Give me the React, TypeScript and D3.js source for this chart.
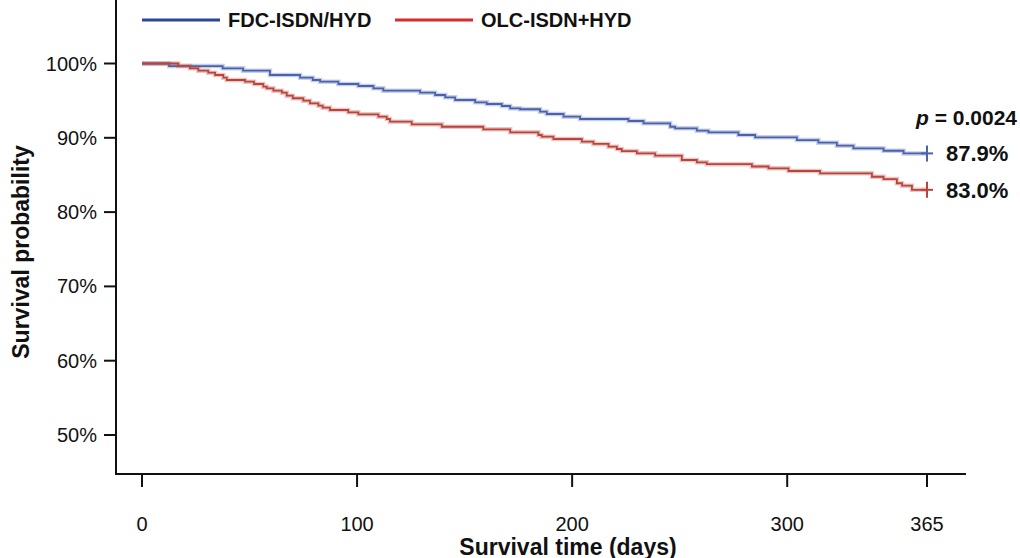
import React from 'react';
import * as d3 from 'd3';

// Kaplan-Meier steps: day of each drop and survival (%) after it
const fdcDays = [0, 12.6, 37.5, 47.0, 59.5, 73.5, 79.4, 82.8, 91.3, 100.6, 107.6, 112.2, 129.3, 136.3, 141.0, 145.6, 154.9, 160.3, 167.3, 171.2, 175.8, 185.1, 188.2, 196.0, 203.7, 226.2, 233.2, 245.6, 247.9, 258.0, 263.4, 277.3, 285.1, 304.5, 314.5, 323.1, 330.8, 344.8, 354.1];
const fdcSurv = [100, 99.66, 99.35, 99.03, 98.45, 98.09, 97.78, 97.55, 97.24, 96.97, 96.66, 96.34, 96.07, 95.76, 95.45, 95.09, 94.78, 94.55, 94.28, 93.97, 93.84, 93.51, 93.2, 92.84, 92.53, 92.26, 91.95, 91.49, 91.28, 90.96, 90.74, 90.38, 90.07, 89.7, 89.34, 88.94, 88.59, 88.26, 87.9];

const olcDays = [0, 16.9, 22.3, 26.2, 30.8, 34.0, 37.8, 39.4, 47.9, 52.1, 56.4, 58.0, 61.1, 65.0, 67.3, 70.1, 75.0, 78.1, 82.0, 84.0, 87.4, 95.9, 100.6, 109.9, 113.8, 115.3, 125.4, 139.4, 158.7, 171.2, 184.3, 185.9, 191.3, 204.5, 209.9, 216.9, 220.8, 223.1, 230.1, 238.6, 251.0, 258.0, 262.6, 283.6, 291.3, 300.6, 315.3, 339.4, 344.8, 351.0, 353.4, 358.0];
const olcSurv = [100, 99.66, 99.35, 99.03, 98.76, 98.45, 98.09, 97.78, 97.55, 97.24, 96.88, 96.66, 96.34, 96.07, 95.67, 95.32, 94.99, 94.64, 94.32, 94.05, 93.74, 93.43, 93.16, 92.84, 92.53, 92.17, 91.82, 91.49, 91.14, 90.74, 90.38, 90.15, 89.84, 89.48, 89.17, 88.8, 88.49, 88.22, 87.91, 87.59, 87.01, 86.7, 86.45, 86.14, 85.89, 85.53, 85.22, 84.76, 84.45, 83.88, 83.55, 83.0];

const xTicks = [0, 100, 200, 300, 365];
const yTicks = [50, 60, 70, 80, 90, 100];
const endDay = 365;

const series = [
  { name: 'FDC-ISDN/HYD', days: fdcDays, surv: fdcSurv, legend: '#2b4797', line: '#4a62ad', label: '87.9%' },
  { name: 'OLC-ISDN+HYD', days: olcDays, surv: olcSurv, legend: '#d62b2f', line: '#b9443c', label: '83.0%' },
];

const FONT = '"Liberation Sans", Arial, Helvetica, sans-serif';

export default function App() {
  const width = 1020;
  const height = 558;
  const axisX = 116;
  const axisY = 474;

  const x = d3.scaleLinear().domain([0, 365]).range([142, 927]);
  const y = d3.scaleLinear().domain([50, 100]).range([435, 63.5]);

  const line = d3
    .line<[number, number]>()
    .x((d) => x(d[0]))
    .y((d) => y(d[1]))
    .curve(d3.curveStepAfter);

  const paths = series.map((s) => {
    const pts: [number, number][] = s.days.map((d, i) => [d, s.surv[i]]);
    pts.push([endDay, s.surv[s.surv.length - 1]]);
    return line(pts) as string;
  });

  return (
    <svg
      width={width}
      height={height}
      style={{ position: 'absolute', left: 0, top: 0, background: '#fff' }}
      fontFamily={FONT}
    >
      {/* legend */}
      {series.map((s, i) => {
        const lx = i === 0 ? 142 : 395;
        return (
          <g key={s.name}>
            <line x1={lx} x2={lx + 78} y1={20} y2={20} stroke={s.legend} strokeWidth={3} />
            <text x={lx + 86} y={27} fontSize={20} fontWeight="bold" fill="#111">
              {s.name}
            </text>
          </g>
        );
      })}

      {/* axes */}
      <line x1={axisX} x2={axisX} y1={0} y2={axisY} stroke="#111" strokeWidth={2} />
      <line x1={axisX - 1} x2={966} y1={axisY} y2={axisY} stroke="#111" strokeWidth={2} />
      {yTicks.map((t) => (
        <g key={t}>
          <line x1={axisX - 12} x2={axisX} y1={y(t)} y2={y(t)} stroke="#111" strokeWidth={2} />
          <text x={97} y={y(t) + 7} textAnchor="end" fontSize={20} fill="#111">
            {t}%
          </text>
        </g>
      ))}
      {xTicks.map((t) => (
        <g key={t}>
          <line x1={x(t)} x2={x(t)} y1={axisY} y2={axisY + 13} stroke="#111" strokeWidth={2} />
          <text x={x(t)} y={531} textAnchor="middle" fontSize={20} fill="#111">
            {t}
          </text>
        </g>
      ))}
      <text
        transform={`translate(29,252) rotate(-90)`}
        textAnchor="middle"
        fontSize={23}
        fontWeight="bold"
        fill="#111"
      >
        Survival probability
      </text>
      <text x={568} y={555} textAnchor="middle" fontSize={23} fontWeight="bold" fill="#111">
        Survival time (days)
      </text>

      {/* curves: soft halo then line, blue first so red sits on top */}
      {series.map((s, i) => {
        const last = y(s.surv[s.surv.length - 1]);
        return (
          <g key={s.name}>
            <path d={paths[i]} fill="none" stroke={s.line} strokeOpacity={0.3} strokeWidth={4.5} />
            <path d={paths[i]} fill="none" stroke={s.line} strokeWidth={1.8} />
            {/* censor mark at end */}
            <g stroke={s.line} strokeWidth={2}>
              <line x1={x(endDay) - 6} x2={x(endDay) + 6} y1={last} y2={last} />
              <line x1={x(endDay)} x2={x(endDay)} y1={last - 8} y2={last + 8} />
            </g>
            <text x={946} y={last + 8} fontSize={22} fontWeight="bold" fill="#111">
              {s.label}
            </text>
          </g>
        );
      })}

      <text x={1017} y={125} textAnchor="end" fontSize={21} fontWeight="bold" fill="#111">
        <tspan fontStyle="italic">p</tspan> = 0.0024
      </text>
    </svg>
  );
}
